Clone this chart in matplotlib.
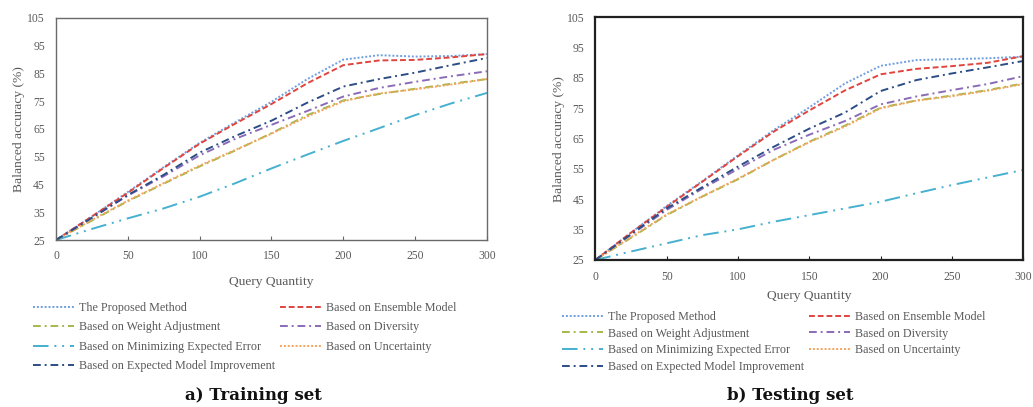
import numpy as np
import matplotlib
matplotlib.use("Agg")
import matplotlib.pyplot as plt

# Query quantity grid
query = [0, 25, 50, 75, 100, 125, 150, 175, 200, 225, 250, 275, 300]

# Training set balanced accuracy (%)
train_proposed    = [25, 33.5, 42.3, 51.3, 60.0, 67.5, 74.8, 83.0, 90.0, 91.6, 91.1, 91.3, 92.0]
train_ensemble    = [25, 33.5, 42.0, 51.0, 59.7, 67.0, 74.0, 81.5, 88.0, 89.7, 89.9, 90.8, 92.0]
train_weight      = [25, 32.0, 39.0, 45.3, 51.5, 57.3, 63.5, 70.0, 75.3, 77.6, 79.5, 81.3, 83.0]
train_diversity   = [25, 33.0, 41.0, 48.0, 55.5, 61.5, 66.5, 71.5, 76.7, 79.8, 82.0, 84.0, 85.8]
train_min_error   = [25, 29.0, 32.8, 36.4, 40.6, 45.5, 50.8, 55.8, 60.7, 65.3, 70.0, 74.2, 78.0]
train_uncertainty = [25, 32.2, 39.2, 45.5, 51.8, 57.5, 63.3, 69.5, 75.0, 77.8, 79.3, 81.0, 83.0]
train_emi         = [25, 33.0, 41.2, 48.5, 56.5, 62.5, 68.0, 74.5, 80.3, 83.0, 85.3, 88.0, 90.6]

# Testing set balanced accuracy (%)
test_proposed    = [25, 34.0, 42.8, 51.0, 59.5, 67.8, 75.3, 83.2, 89.0, 90.9, 91.2, 91.5, 92.0]
test_ensemble    = [25, 34.0, 42.5, 50.8, 59.2, 67.3, 74.3, 80.9, 86.2, 88.0, 88.9, 90.0, 92.2]
test_weight      = [25, 32.3, 39.8, 45.9, 51.6, 58.0, 64.0, 69.3, 75.2, 77.6, 79.2, 81.0, 83.2]
test_diversity   = [25, 33.3, 41.5, 48.5, 55.0, 61.3, 66.3, 70.8, 76.3, 78.9, 81.0, 83.0, 85.6]
test_min_error   = [25, 27.8, 30.5, 33.2, 35.1, 37.6, 39.8, 42.0, 44.2, 47.0, 49.7, 52.2, 54.7]
test_uncertainty = [25, 32.5, 40.0, 46.0, 51.8, 58.0, 63.8, 69.0, 75.0, 77.5, 79.0, 80.8, 83.0]
test_emi         = [25, 33.5, 42.0, 49.0, 55.8, 62.3, 68.3, 73.6, 80.7, 84.3, 86.5, 88.5, 90.6]

labels = ["The Proposed Method", "Based on Ensemble Model", "Based on Weight Adjustment",
          "Based on Diversity", "Based on Minimizing Expected Error", "Based on Uncertainty",
          "Based on Expected Model Improvement"]
colors = ["#6f9fe0", "#e0443e", "#a5b84b", "#8a6bb8", "#45b0d0", "#f6a25a", "#2c4d85"]
styles = [(0, (1, 1)), (0, (3, 1.5)), (0, (4, 2, 1, 2)), (0, (4, 2, 1, 2)),
          (0, (8, 3, 1, 3, 1, 3)), (0, (1, 1)), (0, (4, 2, 1, 2))]

train = [train_proposed, train_ensemble, train_weight, train_diversity,
         train_min_error, train_uncertainty, train_emi]
test = [test_proposed, test_ensemble, test_weight, test_diversity,
        test_min_error, test_uncertainty, test_emi]

gray = "#595959"
plt.rcParams["font.family"] = ["Liberation Serif", "DejaVu Serif"]

fig = plt.figure(figsize=(10.33, 4.07), dpi=100)
ax1 = fig.add_axes([0.0542, 0.4103, 0.4172, 0.5455])
ax2 = fig.add_axes([0.5763, 0.3612, 0.4143, 0.5963])


def draw(ax, series, spine_color, spine_w, xpad):
    handles = []
    for s, c, ls, lab in zip(series, colors, styles, labels):
        h, = ax.plot(query, s, color=c, linestyle=ls, linewidth=1.4, label=lab)
        handles.append(h)
    ax.set_xlim(0, 300)
    ax.set_ylim(25, 105)
    ax.set_xticks(range(0, 301, 50))
    ax.set_yticks(range(25, 106, 10))
    ax.tick_params(axis="x", direction="in", length=3, colors=spine_color,
                   labelcolor=gray, labelsize=8.4, pad=xpad)
    ax.tick_params(axis="y", length=0, labelcolor=gray, labelsize=8.4, pad=8)
    for sp in ax.spines.values():
        sp.set_color(spine_color)
        sp.set_linewidth(spine_w)
    ax.set_ylabel("Balanced accuracy (%)", color=gray, fontsize=9.7)
    return handles


h1 = draw(ax1, train, "#6a6a6a", 1.0, 7)
h2 = draw(ax2, test, "#202020", 1.6, 8)
ax1.set_xlabel("Query Quantity", color=gray, fontsize=9.7, labelpad=10)
ax2.set_xlabel("Query Quantity", color=gray, fontsize=9.7, labelpad=5)
ax1.yaxis.set_label_coords(-0.072, 0.5)
ax2.yaxis.set_label_coords(-0.07, 0.5)


def legend_cols(handles, x1, x2, ytop, spacing):
    col1 = [handles[0], handles[2], handles[4], handles[6]]
    col2 = [handles[1], handles[3], handles[5]]
    for hs, x in ((col1, x1), (col2, x2)):
        leg = fig.legend(handles=hs, loc="upper left", bbox_to_anchor=(x / 1033, 1 - ytop / 407),
                         frameon=False, fontsize=8.7, handlelength=3.4, handletextpad=0.4,
                         borderpad=0, borderaxespad=0, labelspacing=spacing)
        for t in leg.get_texts():
            t.set_color(gray)


legend_cols(h1, 33, 280, 302, 0.62)
legend_cols(h2, 562, 809, 311, 0.38)

fig.text(253 / 1033, 1 - 395 / 407, "a) Training set", ha="center", va="center",
         fontsize=12, fontweight="bold", family="DejaVu Serif", color="#111111")
fig.text(790 / 1033, 1 - 395 / 407, "b) Testing set", ha="center", va="center",
         fontsize=12, fontweight="bold", family="DejaVu Serif", color="#111111")

fig.savefig("out.png", dpi=100)
